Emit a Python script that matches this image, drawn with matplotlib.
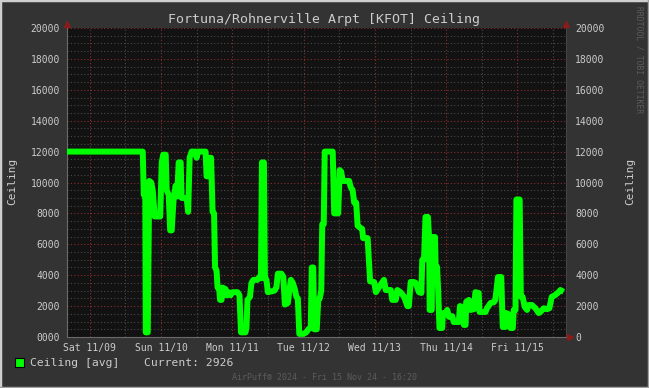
import datetime as dt
import matplotlib
matplotlib.use('Agg')
import matplotlib.pyplot as plt
import matplotlib.dates as mdates
from matplotlib.lines import Line2D
from matplotlib.patches import Rectangle

# --- data -------------------------------------------------------------
title = 'Fortuna/Rohnerville Arpt [KFOT] Ceiling'
start = dt.datetime(2024, 11, 8, 16, 20)
span_hours = 168

# hours since start, ceiling (ft)
hours = [
    0, 25.51, 25.85, 26.35, 26.52, 27.19, 27.69, 28.36, 28.87, 29.54,
    31.39, 31.89, 32.39, 33.23, 33.57, 34.24, 34.74, 35.25, 35.92, 36.59,
    37.09, 37.60, 38.27, 38.60, 40.28, 40.79, 41.29, 41.96, 43.30, 43.64,
    44.14, 46.66, 47.00, 47.67, 48.00, 48.51, 49.01, 49.51, 49.85, 50.35,
    50.69, 51.19, 51.53, 52.03, 52.37, 53.37, 53.71, 54.38, 55.05, 55.72,
    57.40, 58.07, 58.58, 60.09, 60.42, 60.76, 61.60, 62.10, 62.77, 64.11,
    64.79, 65.29, 65.63, 66.30, 66.63, 67.14, 67.64, 69.82, 70.49, 71.00,
    72.17, 72.84, 73.35, 74.35, 74.86, 75.36, 76.03, 76.70, 77.21, 77.71,
    78.21, 79.56, 80.56, 81.23, 82.07, 82.41, 82.91, 83.25, 84.09, 84.59,
    85.09, 85.60, 85.93, 86.44, 86.77, 89.46, 89.96, 91.30, 91.81, 92.31,
    92.82, 95.00, 95.50, 96.17, 96.68, 97.35, 97.85, 98.52, 99.36, 99.70,
    101.21, 102.05, 103.4, 104.0, 105.1, 106.7, 107.3, 109.0, 109.5, 110.7,
    111.2, 112.3, 113.5, 114.6, 115.1, 115.7, 116.8, 117.4, 118.5, 119.3,
    119.6, 120.2, 120.7, 121.5, 121.9, 122.1, 122.8, 123.0, 123.9, 124.1,
    124.6, 125.0, 125.4, 126.3, 126.6, 127.5, 128.0, 128.6, 129.7, 130.2,
    131.9, 132.3, 133.0, 133.6, 134.2, 134.4, 135.3, 135.8, 137.0, 137.5,
    138.6, 138.9, 140.9, 141.4, 142.6, 143.7, 144.2, 145.1, 146.2, 146.7,
    147.6, 147.8, 148.5, 149.3, 150.1, 150.4, 151.0, 151.3, 152.4, 152.8,
    153.4, 154.1, 154.9, 155.4, 156.5, 157.7, 158.8, 159.3, 160.5, 161.6,
    162.4, 163.2, 164.4, 165.5, 166.1, 167.2,
]
ceiling = [
    12000, 12000, 9200, 9100, 300, 300, 10100, 10000, 9500, 7800,
    7800, 11300, 11800, 11800, 9500, 9200, 6900, 6900, 9000, 9800,
    9100, 11300, 11300, 9000, 9000, 8100, 11600, 12000, 12000, 11600,
    12000, 12000, 10400, 10400, 11600, 11600, 8100, 8000, 4500, 4300,
    3200, 3200, 2400, 2400, 3200, 3100, 2700, 2900, 2700, 2900,
    2900, 2700, 300, 300, 600, 2400, 2600, 3500, 3700, 3700,
    3900, 3800, 11300, 11300, 3800, 3700, 2900, 3000, 3200, 4100,
    4100, 3900, 2100, 2200, 3000, 3700, 3500, 3100, 2600, 2500,
    200, 200, 300, 500, 600, 4500, 4500, 500, 500, 2400,
    2500, 3000, 7300, 7300, 12000, 12000, 8000, 8000, 10800, 10700,
    10100, 10100, 9700, 9500, 8700, 8700, 7200, 7100, 7000, 6400,
    6400, 3600, 3560, 2900, 3240, 3700, 3040, 3040, 2400, 2400,
    3040, 2900, 2600, 2000, 2000, 3560, 3560, 3500, 2900, 2850,
    5000, 5000, 7770, 7770, 6470, 1750, 1750, 6470, 6470, 4530,
    4530, 2850, 580, 580, 1550, 1550, 1750, 1300, 1350, 970,
    970, 2000, 1950, 780, 780, 2270, 2400, 1750, 1800, 2900,
    2850, 1620, 1620, 1860, 2200, 2250, 2400, 3880, 3880, 650,
    650, 1550, 1500, 580, 580, 1750, 1750, 8900, 8900, 2600,
    2600, 1950, 1750, 2070, 2070, 1860, 1550, 1600, 1860, 1800,
    1860, 2600, 2720, 2900, 3040, 2926,
]
current = 2926

yticks = [0, 2000, 4000, 6000, 8000, 10000, 12000, 14000, 16000, 18000, 20000]
left_labels = ['0000', '2000', '4000', '6000', '8000', '10000', '12000',
               '14000', '16000', '18000', '20000']
right_labels = ['0', '2000', '4000', '6000', '8000', '10000', '12000',
                '14000', '16000', '18000', '20000']
day_ticks = [dt.datetime(2024, 11, d) for d in range(9, 16)]
noon_ticks = [dt.datetime(2024, 11, d, 12) for d in range(9, 16)]

# --- style ------------------------------------------------------------
plt.rcParams['font.family'] = ['DejaVu Sans Mono']
FONT = '#cccccc'
DIM = '#5c5c5c'
MGRID = '#8a2e2e'
GRID = '#4a4a4a'
W, H = 649, 388


def fx(x):
    return x / W


def fy(y):
    return 1 - y / H


fig = plt.figure(figsize=(W / 100, H / 100), dpi=100, facecolor='#333333')
ax = fig.add_axes([fx(67), fy(337), 499 / W, 309 / H], facecolor='#121212')

times = [start + dt.timedelta(hours=h) for h in hours]
ax.plot(times, ceiling, color='#00ff00', lw=4.3, solid_joinstyle='round',
        solid_capstyle='butt', zorder=3)

ax.set_yticks(yticks, labels=left_labels)
ax.set_yticks(range(0, 20001, 500), minor=True)
ax.set_xticks(day_ticks)
ax.set_xticks(noon_ticks, minor=True)
ax.xaxis.set_major_formatter(mdates.DateFormatter('%a %m/%d'))

ax.set_xlim(start, start + dt.timedelta(hours=span_hours))
ax.set_ylim(0, 20000)

dots = (0, (1, 2))
ax.grid(which='major', color=MGRID, ls=dots, lw=0.8)
ax.grid(which='minor', color=GRID, ls=dots, lw=0.8)
ax.set_axisbelow(True)

ax.tick_params(which='both', length=0, colors=FONT, labelsize=7)
ax.tick_params(axis='y', pad=5)
ax.tick_params(axis='x', pad=4)

for s in ['top', 'right']:
    ax.spines[s].set_visible(False)
for s in ['left', 'bottom']:
    ax.spines[s].set_color('#6a6a6a')
    ax.spines[s].set_linewidth(0.8)

sec = ax.secondary_yaxis('right')
sec.set_yticks(yticks, labels=right_labels)
sec.tick_params(length=0, colors=FONT, labelsize=7, pad=6.5)
sec.spines['right'].set_color('#444444')

# axis arrows
arrow = dict(color='#8b1a1a', ms=4, ls='none', transform=fig.transFigure)
fig.add_artist(Line2D([fx(67)], [fy(24)], marker='^', **arrow))
fig.add_artist(Line2D([fx(566)], [fy(24)], marker='^', **arrow))
fig.add_artist(Line2D([fx(570)], [fy(337)], marker='>', **arrow))

# texts
fig.text(fx(324.5), fy(19), title, ha='center', va='center',
         fontsize=9.5, color=FONT)
fig.text(fx(12), fy(181), 'Ceiling', rotation=90, ha='center', va='center',
         fontsize=8, color=FONT)
fig.text(fx(630), fy(181), 'Ceiling', rotation=90, ha='center', va='center',
         fontsize=8, color=FONT)
fig.text(fx(639), fy(60), 'RRDTOOL / TOBI OETIKER', rotation=-90,
         ha='center', va='center', fontsize=5.8, color=DIM)

# legend
fig.add_artist(Rectangle((fx(15), fy(367)), 9 / W, 9 / H, facecolor='#00ff00',
                         edgecolor='black', lw=0.8, transform=fig.transFigure))
fig.text(fx(30), fy(363), 'Ceiling [avg]', va='center', fontsize=8.2, color=FONT)
fig.text(fx(144), fy(363), f'Current: {current}', va='center',
         fontsize=8.2, color=FONT)

fig.text(fx(324.5), fy(377.5), 'AirPuff® 2024 - Fri 15 Nov 24 - 16:20',
         ha='center', va='center', fontsize=6, color=DIM)

# frame shading
fig.add_artist(Line2D([0, 0, 1], [0, 1, 1], color='#cfcfcf', lw=2.5,
                      transform=fig.transFigure))
fig.add_artist(Line2D([0, 1, 1], [0, 0, 1], color='#9e9e9e', lw=2.5,
                      transform=fig.transFigure))

fig.savefig('out.png', dpi=100, facecolor=fig.get_facecolor())
